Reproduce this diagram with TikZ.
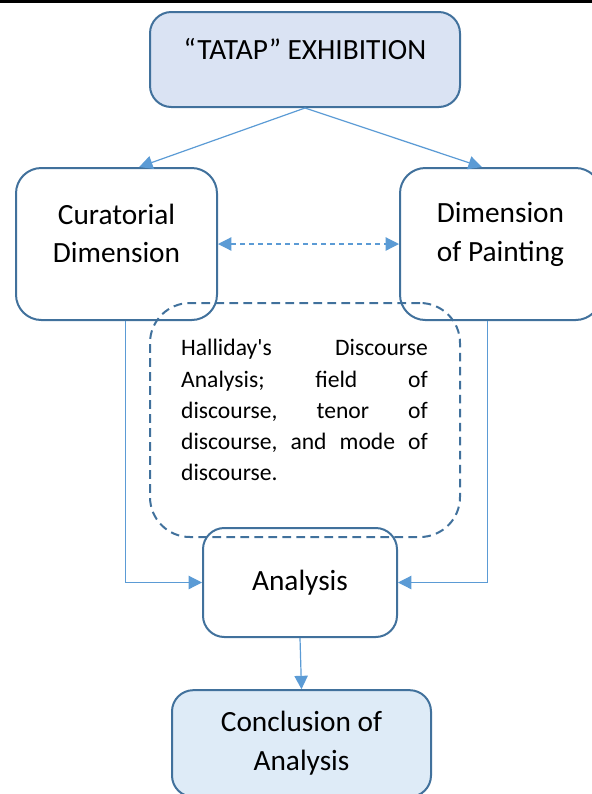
\documentclass[tikz,border=0pt]{standalone}
\usepackage{fontspec}
\setmainfont{Carlito}
\usetikzlibrary{arrows.meta}
\definecolor{boxline}{RGB}{65,113,156}
\definecolor{linkblue}{RGB}{91,155,213}
\definecolor{topfill}{RGB}{218,227,243}
\definecolor{endfill}{RGB}{222,235,247}
% one justified line of the note
\newcommand\noteline[1]{\makebox[185pt][l]{#1}}

\begin{document}
\begin{tikzpicture}[
    x=0.75pt, y=-0.75pt,
    box/.style={draw=boxline, line width=1.5pt, rounded corners=16pt},
    boxtext/.style={font=\fontsize{22}{29}\selectfont, align=center},
    link/.style={draw=linkblue, line width=0.9pt, -{Triangle[length=10pt,width=10pt]}}
]
\useasboundingbox (0,0) rectangle (592,794);
% black rule along the top edge
\fill[black] (0,0) rectangle (592,3);

% Boxes
\node[box, fill=topfill, minimum width=232.5pt, minimum height=71.25pt] (tatap) at (305,59.5) {};
\node[boxtext] (tataplbl) at ([yshift=8pt]tatap.center) {“TATAP” EXHIBITION};

\node[box, rounded corners=19pt, minimum width=150.75pt, minimum height=114pt] (cur) at (116.5,244) {};
\node[boxtext] (curlbl) at ([yshift=8pt]cur.center) {Curatorial\\Dimension};

\node[box, rounded corners=19pt, minimum width=150.75pt, minimum height=114pt] (paint) at (500.5,244) {};
\node[boxtext] (paintlbl) at ([yshift=7pt]paint.center) {Dimension\\of Painting};

\node[box, dashed, dash pattern=on 6.5pt off 4pt, rounded corners=30pt, minimum width=232.5pt, minimum height=175.5pt] (disc) at (305,420) {};
\node[font=\fontsize{17.7}{23.3}\selectfont, text width=185pt, align=left] (disclbl) at (304.5,410) {%
    \noteline{Halliday\textquotesingle s\hfill Discourse}\\
    \noteline{Analysis;\hfill field\hfill of}\\
    \noteline{discourse,\hfill tenor\hfill of}\\
    \noteline{discourse,\hfill and\hfill mode\hfill of}\\
    discourse.};

\node[box, boxtext, minimum width=145.5pt, minimum height=81.75pt] (ana) at (300,582.5) {Analysis};
\node[box, boxtext, fill=endfill, minimum width=194.25pt, minimum height=80pt] (concl) at (301.5,743.5) {Conclusion of\\Analysis};

% Connectors
\draw[link] (tatap.south) -- ([xshift=17pt]cur.north);
\draw[link] (tatap.south) -- ([xshift=-14pt]paint.north);
\draw[link, {Triangle[length=10pt,width=10pt]}-{Triangle[length=10pt,width=10pt]}, dash pattern=on 3.75pt off 3pt] (cur.east) -- (paint.west);
\draw[link] ([xshift=7pt]cur.south) |- (ana.west);
\draw[link] ([xshift=-10pt]paint.south) |- (ana.east);
\draw[link] (ana.south) -- (concl.north);
\end{tikzpicture}
\end{document}
